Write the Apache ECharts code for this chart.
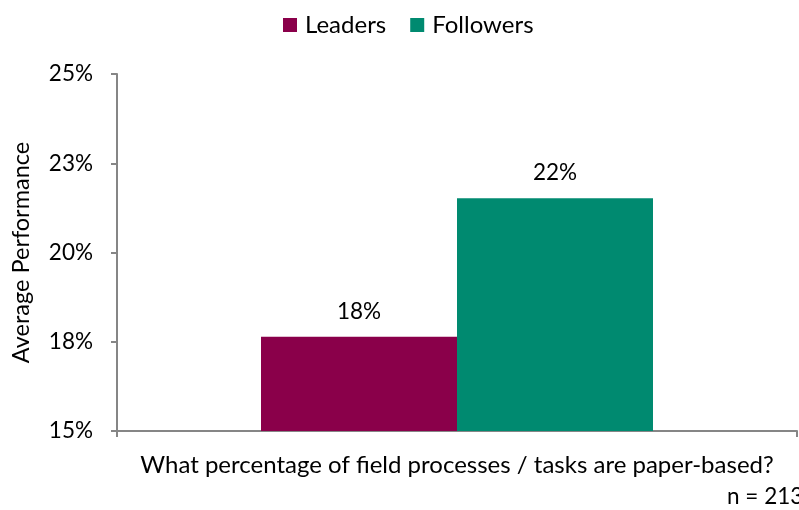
<!DOCTYPE html>
<html><head><meta charset="utf-8">
<script src="https://cdn.jsdelivr.net/npm/echarts@6/dist/echarts.min.js"></script>
<style>html,body{margin:0;padding:0;background:#fff}#c{width:799px;height:510px}</style>
</head><body><div id="c"></div>
<script>
const categories = ['What percentage of field processes / tasks are paper-based?'];
const seriesNames = ['Leaders', 'Followers'];
const leadersValues = [17.64];
const followersValues = [21.52];
const yTicks = [15, 17.5, 20, 22.5, 25];
const noteText = 'n = 213';

const FONT = 'Lato';
const chart = echarts.init(document.getElementById('c'));
chart.setOption({
  animation: false,
  textStyle: { fontFamily: FONT },
  legend: {
    top: 8, left: 278, itemWidth: 14, itemHeight: 14, itemGap: 24,
    textStyle: { fontSize: 24, color: '#000', fontFamily: FONT, padding: [0, 0, 0, 3] },
    icon: 'rect',
    data: seriesNames
  },
  graphic: [{
    type: 'text', left: 727, top: 485,
    style: { text: noteText, fontSize: 22.5, fill: '#000', fontFamily: FONT }
  }],
  grid: { left: 117, right: 2, top: 74, bottom: 79 },
  xAxis: {
    type: 'category', data: categories,
    axisLine: { lineStyle: { color: '#868686', width: 2 } },
    axisTick: { show: true, length: 6, lineStyle: { color: '#868686', width: 2 } },
    axisLabel: { fontSize: 24, color: '#000', margin: 22, fontFamily: FONT }
  },
  yAxis: {
    type: 'value', min: yTicks[0], max: yTicks[yTicks.length - 1], interval: 2.5,
    name: 'Average Performance', nameLocation: 'middle', nameGap: 84,
    nameTextStyle: { fontSize: 23.5, color: '#000', fontFamily: FONT },
    axisLine: { show: true, lineStyle: { color: '#868686', width: 2 } },
    axisTick: { show: true, length: 6, lineStyle: { color: '#868686', width: 2 } },
    splitLine: { show: false },
    axisLabel: { fontSize: 22.5, color: '#000', margin: 24, fontFamily: FONT,
      formatter: v => Math.round(v) + '%' }
  },
  series: [
    { name: seriesNames[0], type: 'bar', data: leadersValues, barWidth: 196, barGap: '0%',
      itemStyle: { color: '#8A004A' },
      label: { show: true, position: 'top', distance: 14, fontSize: 22.5, color: '#000', fontFamily: FONT,
        formatter: p => Math.round(p.value) + '%' } },
    { name: seriesNames[1], type: 'bar', data: followersValues, barWidth: 196, barGap: '0%',
      itemStyle: { color: '#008A70' },
      label: { show: true, position: 'top', distance: 14, fontSize: 22.5, color: '#000', fontFamily: FONT,
        formatter: p => Math.round(p.value) + '%' } }
  ]
});
</script></body></html>
